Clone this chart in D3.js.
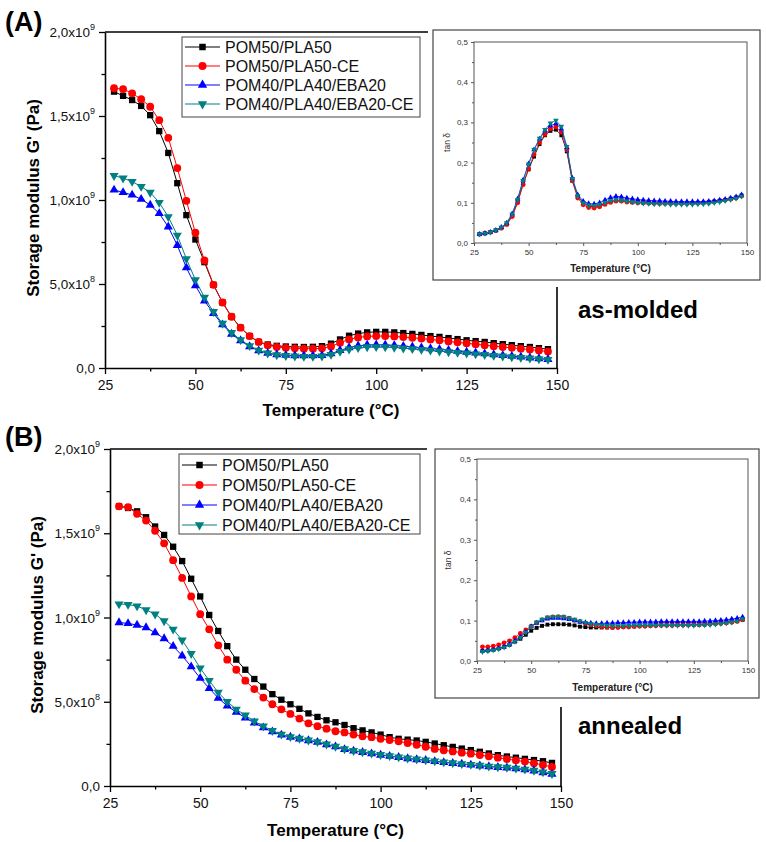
<!DOCTYPE html>
<html><head><meta charset="utf-8">
<script src="https://cdn.jsdelivr.net/npm/d3@7"></script>
<style>body{margin:0;background:#fff} svg{display:block;font-family:"Liberation Sans",Arial,sans-serif}</style>
</head><body><svg id="c" width="766" height="842"></svg>
<script>
// ---------------- DATA ----------------
const temps=[27.5,30,32.5,35,37.5,40,42.5,45,47.5,50,52.5,55,57.5,60,62.5,65,67.5,70,72.5,75,77.5,80,82.5,85,87.5,90,92.5,95,97.5,100,102.5,105,107.5,110,112.5,115,117.5,120,122.5,125,127.5,130,132.5,135,137.5,140,142.5,145,147.5];
const seriesNames=["POM50/PLA50","POM50/PLA50-CE","POM40/PLA40/EBA20","POM40/PLA40/EBA20-CE"];
const seriesColors=["#000000","#ff0000","#0000ff","#008080"];
const seriesShapes=["square","circle","triangle","triangleDown"];

// Storage modulus, units of 1e8 Pa — (A) as-molded
const molded_pom50=[16.45,16.2,15.95,15.6,15.05,14.1,12.8,11.0,9.1,7.65,6.3,4.95,3.9,3.05,2.4,1.9,1.55,1.4,1.32,1.28,1.26,1.25,1.26,1.3,1.45,1.7,1.92,2.05,2.12,2.15,2.15,2.12,2.08,2.03,1.97,1.9,1.85,1.78,1.72,1.65,1.6,1.55,1.48,1.42,1.36,1.3,1.25,1.18,1.12];
const molded_pom50ce=[16.65,16.6,16.35,16.0,15.55,14.75,13.7,11.9,9.95,8.05,6.4,4.95,3.9,3.05,2.4,1.9,1.55,1.35,1.25,1.2,1.17,1.15,1.15,1.17,1.28,1.5,1.7,1.82,1.88,1.9,1.9,1.88,1.84,1.8,1.75,1.7,1.65,1.58,1.53,1.47,1.42,1.36,1.3,1.25,1.2,1.15,1.1,1.04,0.98];
const molded_pom40=[10.6,10.45,10.3,10.05,9.7,9.2,8.4,7.3,5.97,4.9,4.0,3.25,2.58,2.02,1.63,1.28,1.03,0.88,0.8,0.76,0.74,0.73,0.73,0.75,0.85,1.05,1.22,1.32,1.37,1.38,1.37,1.34,1.3,1.26,1.21,1.16,1.11,1.06,1.0,0.95,0.9,0.85,0.8,0.75,0.7,0.66,0.61,0.56,0.52];
const molded_pom40ce=[11.45,11.3,11.1,10.8,10.45,9.85,9.0,7.9,6.5,5.25,4.2,3.35,2.65,2.1,1.68,1.32,1.05,0.88,0.78,0.73,0.7,0.68,0.68,0.7,0.8,0.98,1.12,1.2,1.25,1.26,1.25,1.22,1.18,1.14,1.1,1.05,1.0,0.96,0.92,0.88,0.83,0.79,0.74,0.7,0.66,0.62,0.58,0.54,0.5];

// Storage modulus, units of 1e8 Pa — (B) annealed
const annealed_pom50=[16.6,16.5,16.3,15.95,15.4,14.9,14.2,13.35,12.3,11.25,10.15,9.2,8.3,7.5,6.9,6.35,5.9,5.45,5.12,4.85,4.58,4.31,4.1,3.9,3.78,3.62,3.43,3.3,3.18,3.05,2.9,2.8,2.75,2.7,2.62,2.52,2.42,2.32,2.22,2.13,2.03,1.93,1.83,1.75,1.68,1.61,1.54,1.47,1.37];
const annealed_pom50ce=[16.6,16.55,16.15,15.75,15.15,14.4,13.4,12.35,11.25,10.2,9.3,8.35,7.5,6.9,6.25,5.75,5.25,4.85,4.55,4.28,4.0,3.72,3.55,3.4,3.25,3.18,3.05,2.95,2.9,2.8,2.73,2.65,2.55,2.45,2.33,2.2,2.12,2.05,1.98,1.92,1.84,1.76,1.68,1.6,1.52,1.45,1.35,1.25,1.13];
const annealed_pom40=[9.7,9.65,9.55,9.4,9.1,8.75,8.3,7.73,7.08,6.4,5.8,5.22,4.75,4.38,4.05,3.75,3.46,3.22,3.03,2.9,2.8,2.7,2.6,2.45,2.33,2.17,2.08,2.0,1.92,1.84,1.77,1.7,1.63,1.57,1.52,1.46,1.4,1.35,1.3,1.25,1.2,1.15,1.11,1.08,1.03,0.97,0.9,0.8,0.7];
const annealed_pom40ce=[10.8,10.77,10.68,10.45,10.2,9.8,9.3,8.65,7.85,7.0,6.25,5.55,5.0,4.55,4.2,3.85,3.55,3.28,3.07,2.92,2.82,2.72,2.62,2.48,2.35,2.2,2.1,2.02,1.94,1.86,1.79,1.72,1.65,1.59,1.54,1.48,1.42,1.37,1.32,1.27,1.22,1.17,1.13,1.1,1.05,0.99,0.92,0.83,0.73];

// tan delta — (A) inset
const tanA_pom50=[.022,.024,.027,.031,.037,.047,.068,.103,.148,.183,.215,.246,.268,.279,.282,.268,.228,.155,.115,.1,.092,.09,.093,.098,.103,.106,.106,.104,.102,.101,.1,.1,.099,.099,.099,.099,.099,.099,.099,.099,.1,.1,.101,.103,.105,.107,.11,.113,.118];
const tanA_pom50ce=[.022,.024,.027,.031,.037,.046,.066,.1,.145,.185,.22,.25,.27,.284,.289,.276,.232,.155,.112,.095,.088,.087,.09,.096,.101,.104,.104,.102,.101,.1,.1,.099,.099,.098,.098,.098,.098,.098,.098,.099,.099,.1,.101,.103,.105,.107,.109,.112,.117];
const tanA_pom40=[.022,.024,.027,.032,.039,.05,.073,.11,.157,.197,.232,.259,.279,.292,.297,.284,.238,.162,.12,.104,.098,.097,.1,.107,.113,.116,.115,.112,.11,.108,.107,.106,.105,.105,.104,.104,.103,.103,.103,.103,.103,.103,.104,.105,.107,.109,.112,.115,.12];
const tanA_pom40ce=[.022,.024,.027,.032,.039,.05,.072,.108,.155,.196,.232,.26,.282,.298,.305,.29,.24,.16,.117,.1,.094,.093,.096,.101,.105,.107,.106,.104,.102,.1,.099,.098,.097,.097,.097,.096,.096,.096,.096,.096,.097,.097,.098,.1,.102,.105,.108,.111,.116];

// tan delta — (B) inset
const tanB_pom50=[.025,.026,.028,.031,.035,.04,.048,.055,.065,.075,.082,.087,.09,.091,.091,.091,.09,.088,.085,.084,.083,.083,.083,.083,.083,.084,.085,.086,.087,.088,.088,.088,.089,.089,.089,.089,.089,.09,.09,.09,.09,.091,.092,.093,.094,.095,.097,.099,.102];
const tanB_pom50ce=[.035,.035,.037,.04,.045,.05,.058,.068,.077,.086,.095,.102,.107,.109,.11,.109,.106,.101,.097,.093,.089,.087,.085,.084,.083,.083,.084,.084,.085,.086,.086,.087,.087,.088,.088,.088,.089,.089,.089,.09,.09,.09,.091,.092,.093,.094,.096,.098,.102];
const tanB_pom40=[.025,.026,.028,.031,.035,.042,.05,.06,.072,.085,.094,.1,.104,.106,.106,.105,.103,.1,.097,.095,.094,.093,.093,.094,.094,.095,.095,.096,.096,.097,.097,.097,.097,.098,.098,.098,.098,.098,.098,.098,.098,.099,.099,.1,.101,.102,.104,.106,.109];
const tanB_pom40ce=[.023,.025,.027,.03,.034,.04,.048,.058,.071,.085,.096,.103,.108,.11,.11,.109,.106,.103,.099,.095,.092,.09,.089,.088,.087,.087,.087,.087,.088,.088,.088,.088,.088,.088,.088,.088,.088,.088,.088,.088,.089,.089,.09,.091,.092,.094,.096,.099,.104];

const xTicks=[25,50,75,100,125,150];
const xMinorTicks=[37.5,62.5,87.5,112.5,137.5];
const yTicks=[0,5,10,15,20];            // units of 1e8 Pa
const yMinorTicks=[2.5,7.5,12.5,17.5];
const yTickMantissa=["0,0","5,0x10","1,0x10","1,5x10","2,0x10"];
const yTickExponent=["","8","9","9","9"];
const insetYTicks=[0,0.1,0.2,0.3,0.4,0.5];
const insetYTickLabels=["0,0","0,1","0,2","0,3","0,4","0,5"];
const insetYMinor=[0.05,0.15,0.25,0.35,0.45];

// ---------------- DRAW ----------------
const svg=d3.select("#c");
const FONT='"Liberation Sans",Arial,sans-serif';

function symType(s){return s==="square"?d3.symbolSquare:s==="circle"?d3.symbolCircle:d3.symbolTriangle;}
function symSize(s,k){const base={square:40,circle:48,triangle:36,triangleDown:36};return base[s]*k;}
function drawMarker(g,shape,color,x,y,k){
  g.append("path").attr("d",d3.symbol().type(symType(shape)).size(symSize(shape,k))())
   .attr("transform",`translate(${x},${y})`+(shape==="triangleDown"?" rotate(180)":""))
   .attr("fill",color).attr("stroke","none");
}
function drawSeries(g,x,y,vals,i,k,lw){
  const pts=temps.map((t,j)=>[t,vals[j]]);
  g.append("path").datum(pts).attr("fill","none").attr("stroke",seriesColors[i]).attr("stroke-width",lw)
   .attr("d",d3.line().x(d=>x(d[0])).y(d=>y(d[1])));
  const mg=g.append("g");
  pts.forEach(d=>drawMarker(mg,seriesShapes[i],seriesColors[i],x(d[0]),y(d[1]),k));
}

function drawMain(c,data){
  const x=d3.scaleLinear().domain([25,150]).range([c.x0,c.x1]);
  const y=d3.scaleLinear().domain([0,20]).range([c.yB,c.yT]);
  const g=svg.append("g");
  data.forEach((vals,i)=>drawSeries(g,x,y,vals,i,1,1));
  const xa=g.append("g").attr("transform",`translate(0,${c.yB})`)
    .call(d3.axisBottom(x).tickValues(xTicks).tickSize(6).tickSizeOuter(0).tickPadding(6).tickFormat(d3.format("d")));
  xa.selectAll("text").attr("font-size",14).attr("font-family",FONT).attr("fill","#111");
  g.append("g").attr("transform",`translate(0,${c.yB})`)
    .call(d3.axisBottom(x).tickValues(xMinorTicks).tickSize(3.5).tickSizeOuter(0).tickFormat(""))
    .select(".domain").remove();
  g.append("g").attr("transform",`translate(${c.x0},0)`)
    .call(d3.axisLeft(y).tickValues(yTicks).tickSize(6).tickSizeOuter(0).tickFormat(""));
  g.append("g").attr("transform",`translate(${c.x0},0)`)
    .call(d3.axisLeft(y).tickValues(yMinorTicks).tickSize(3.5).tickSizeOuter(0).tickFormat(""))
    .select(".domain").remove();
  g.selectAll(".domain").attr("stroke-width",1.6);
  g.selectAll(".tick line").attr("stroke-width",1.3);
  yTicks.forEach((v,i)=>{
    const t=g.append("text").attr("x",c.x0-10).attr("y",y(v)+5).attr("text-anchor","end")
      .attr("font-size",13.5).attr("fill","#111");
    t.append("tspan").text(yTickMantissa[i]);
    if(yTickExponent[i]) t.append("tspan").attr("dy",-7).attr("font-size",9).text(yTickExponent[i]);
  });
  g.append("line").attr("x1",c.x0).attr("x2",c.topEnd).attr("y1",c.yT).attr("y2",c.yT).attr("stroke","#000").attr("stroke-width",1.6);
  g.append("line").attr("x1",c.x1).attr("x2",c.x1).attr("y1",c.rightStart).attr("y2",c.yB).attr("stroke","#000").attr("stroke-width",1.6);
  g.append("text").attr("x",(c.x0+c.x1)/2).attr("y",c.xTitleY).attr("text-anchor","middle")
    .attr("font-size",17).attr("font-weight","bold").text("Temperature (°C)");
  g.append("text").attr("transform",`translate(${c.yTitleX},${c.yTitleY}) rotate(-90)`).attr("text-anchor","middle")
    .attr("dy","0.35em").attr("font-size",17).attr("font-weight","bold").text("Storage modulus G' (Pa)");
  g.append("text").attr("x",c.labX).attr("y",c.labY).attr("font-size",27).attr("font-weight","bold").text(c.panel);
  g.append("text").attr("x",c.sideX).attr("y",c.sideY).attr("font-size",24).attr("font-weight","bold").text(c.side);
  const L=c.leg;
  g.append("rect").attr("x",L.x).attr("y",L.y).attr("width",L.w).attr("height",L.h)
    .attr("fill","#fff").attr("stroke","#444").attr("stroke-width",1);
  seriesNames.forEach((n,i)=>{
    const ry=L.rows[i];
    g.append("line").attr("x1",L.lx0).attr("x2",L.lx1).attr("y1",ry).attr("y2",ry).attr("stroke",seriesColors[i]).attr("stroke-width",1.2);
    drawMarker(g,seriesShapes[i],seriesColors[i],(L.lx0+L.lx1)/2,ry,1.05);
    g.append("text").attr("x",L.tx).attr("y",ry).attr("dy","0.36em").attr("font-size",16).attr("fill","#111").text(n);
  });
}

function drawInset(c,data){
  const g=svg.append("g");
  g.append("rect").attr("x",c.bx).attr("y",c.by).attr("width",c.bw).attr("height",c.bh)
    .attr("fill","#fff").attr("stroke","#444").attr("stroke-width",1.2);
  const x=d3.scaleLinear().domain([25,150]).range([c.x0,c.x1]);
  const y=d3.scaleLinear().domain([0,0.5]).range([c.yB,c.yT]);
  data.forEach((vals,i)=>drawSeries(g,x,y,vals,i,0.38,0.8));
  g.append("rect").attr("x",c.x0).attr("y",c.yT).attr("width",c.x1-c.x0).attr("height",c.yB-c.yT)
    .attr("fill","none").attr("stroke","#555").attr("stroke-width",1);
  g.append("g").attr("transform",`translate(0,${c.yB})`)
    .call(d3.axisBottom(x).tickValues(xTicks).tickSize(3).tickSizeOuter(0).tickPadding(3).tickFormat(d3.format("d")));
  g.append("g").attr("transform",`translate(0,${c.yB})`)
    .call(d3.axisBottom(x).tickValues(xMinorTicks).tickSize(2).tickSizeOuter(0).tickFormat(""));
  g.append("g").attr("transform",`translate(${c.x0},0)`)
    .call(d3.axisLeft(y).tickValues(insetYTicks).tickSize(3).tickSizeOuter(0).tickPadding(3).tickFormat((d,i)=>insetYTickLabels[i]));
  g.append("g").attr("transform",`translate(${c.x0},0)`)
    .call(d3.axisLeft(y).tickValues(insetYMinor).tickSize(2).tickSizeOuter(0).tickFormat(""));
  g.selectAll(".domain").remove();
  g.selectAll(".tick line").attr("stroke","#555");
  g.selectAll(".tick text").attr("font-size",8).attr("font-family",FONT).attr("fill","#333");
  g.append("text").attr("x",(c.x0+c.x1)/2).attr("y",c.titleY).attr("text-anchor","middle")
    .attr("font-size",10).attr("font-weight","bold").attr("fill","#222").text("Temperature (°C)");
  g.append("text").attr("transform",`translate(${c.tanX},${(c.yT+c.yB)/2}) rotate(-90)`).attr("text-anchor","middle")
    .attr("font-size",8.5).attr("fill","#333").text("tan δ");
}

drawMain({x0:105,x1:557,yT:32,yB:368,topEnd:428,rightStart:287,xTitleY:416,yTitleX:33,yTitleY:198,
  labX:5,labY:31,panel:"(A)",sideX:578,sideY:318,side:"as-molded",
  leg:{x:182,y:37,w:238,h:80,rows:[47,66,85,104],lx0:185,lx1:220,tx:225}},
  [molded_pom50,molded_pom50ce,molded_pom40,molded_pom40ce]);
drawInset({bx:433,by:30,bw:327,bh:250,x0:474,x1:747,yT:42,yB:243,titleY:272,tanX:450},
  [tanA_pom50,tanA_pom50ce,tanA_pom40,tanA_pom40ce]);

drawMain({x0:110,x1:561,yT:449,yB:786,topEnd:427,rightStart:707,xTitleY:836,yTitleX:37,yTitleY:615,
  labX:5,labY:446,panel:"(B)",sideX:578,sideY:734,side:"annealed",
  leg:{x:179,y:454,w:241,h:80,rows:[465,485,505,525],lx0:182,lx1:217,tx:222}},
  [annealed_pom50,annealed_pom50ce,annealed_pom40,annealed_pom40ce]);
drawInset({bx:435,by:449,bw:324,bh:249,x0:477,x1:748,yT:459,yB:661,titleY:691,tanX:451},
  [tanB_pom50,tanB_pom50ce,tanB_pom40,tanB_pom40ce]);
</script></body></html>
